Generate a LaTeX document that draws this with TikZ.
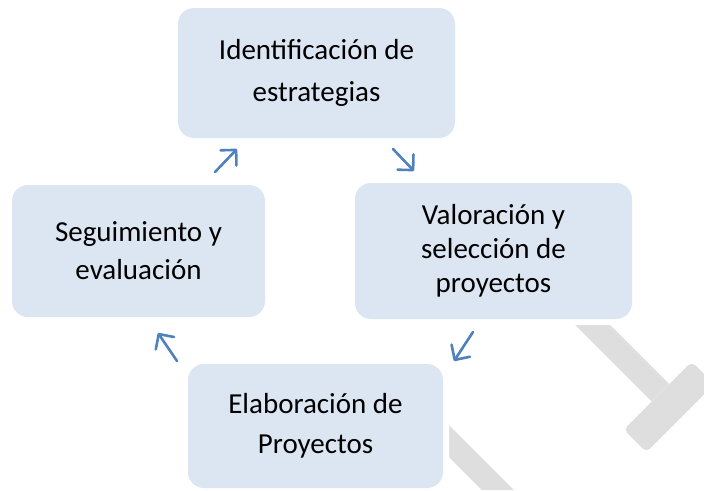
\documentclass[tikz,border=0pt]{standalone}
\usepackage{fontspec}
\setmainfont{Carlito}
\usetikzlibrary{arrows.meta}
\definecolor{boxblue}{RGB}{220,230,242}
\definecolor{arrowblue}{RGB}{79,129,189}
\definecolor{wmgray}{RGB}{222,222,222}
\tikzset{
  cyclebox/.style={rounded corners=16pt, fill=boxblue, draw=none,
    preaction={draw=white, line width=12pt},
    align=center, inner sep=0pt},
  cyclearrow/.style={draw=arrowblue, line width=2.6pt, line cap=round,
    -{Straight Barb[length=11pt,width=22pt,line width=2.6pt, line cap=round, line join=round]}},
}
\begin{document}
\begin{tikzpicture}[x=1pt,y=-1pt]
\useasboundingbox (0,0) rectangle (704,490);
% watermark fragments
\fill[wmgray] (500,250) -- (535,250) -- (669,384) -- (651.5,401.5) -- cycle;
\fill[wmgray, rounded corners=5pt] (623.7,429.7) -- (691.7,361.7) -- (714.3,384.3) -- (646.3,452.3) -- cycle;
\fill[wmgray] (412,420) -- (444,420) -- (514,490) -- (482,490) -- cycle;
% boxes
\node[cyclebox, minimum width=277pt, minimum height=130pt, font=\fontsize{29}{42}\selectfont] (ident) at (316.5,73) {Identificación de\\estrategias};
\node[cyclebox, minimum width=277pt, minimum height=136pt, font=\fontsize{29}{34}\selectfont] (valor) at (493.5,251) {Valoración y\\selección de\\proyectos};
\node[cyclebox, minimum width=255pt, minimum height=124pt, font=\fontsize{29}{40}\selectfont] (elab) at (315.5,426) {Elaboración de\\Proyectos};
\node[cyclebox, minimum width=253pt, minimum height=132pt, font=\fontsize{29}{38}\selectfont] (segui) at (138.5,251) {Seguimiento y\\evaluación};
% arrow end points
\coordinate (a1s) at (215,172); \coordinate (a1e) at (237,149);
\coordinate (a2s) at (393,149); \coordinate (a2e) at (414,171);
\coordinate (a3s) at (473,332); \coordinate (a3e) at (454,361);
\coordinate (a4s) at (177,361); \coordinate (a4e) at (158,333);
\draw[cyclearrow] (a1s) -- (a1e);
\draw[cyclearrow] (a2s) -- (a2e);
\draw[cyclearrow] (a3s) -- (a3e);
\draw[cyclearrow] (a4s) -- (a4e);
\end{tikzpicture}
\end{document}
